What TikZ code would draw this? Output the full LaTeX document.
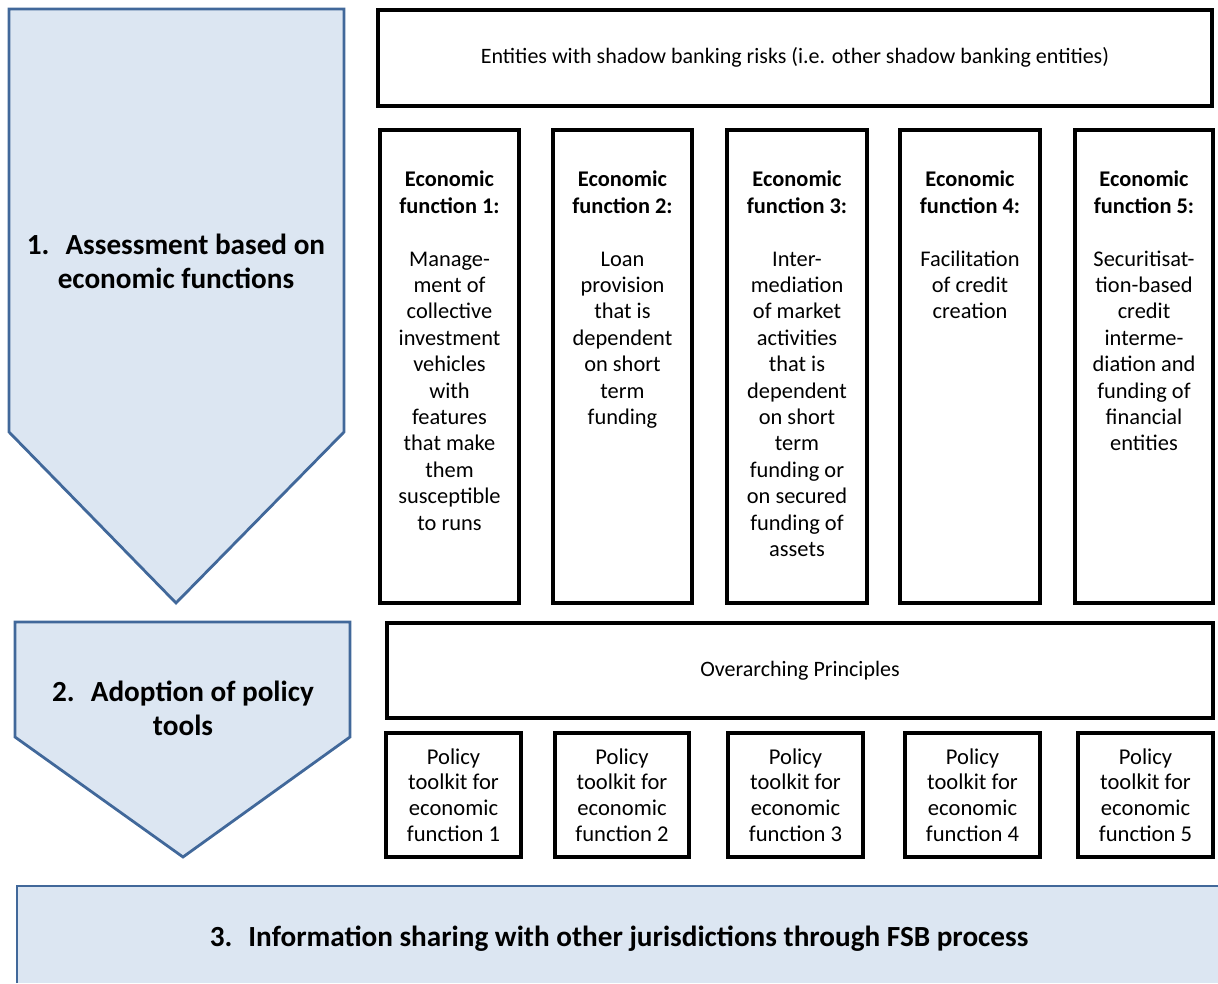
\documentclass[tikz,border=0pt]{standalone}
\usepackage{fontspec}
\setmainfont{Carlito}
\usetikzlibrary{fit}
\definecolor{chfill}{HTML}{DCE6F2}
\definecolor{chline}{HTML}{41689A}
\newcommand{\stk}[1]{\begin{tabular}[t]{@{}c@{}}#1\end{tabular}}
\newcommand{\bodyfnt}{\fontsize{11.2pt}{13.2pt}\selectfont}
\newcommand{\polfnt}{\fontsize{11.3pt}{12.85pt}\selectfont}
\newcommand{\smallfnt}{\fontsize{11pt}{13pt}\selectfont}
\newcommand{\bigfnt}{\fontsize{14.6pt}{17pt}\selectfont\bfseries}
\tikzset{
  blk/.style={draw=black, line width=1.75pt, fill=white, inner sep=0pt},
  chev/.style={draw=chline, fill=chfill, line width=1.4pt, line join=miter},
  txt/.style={inner sep=0pt, anchor=base},
}
\begin{document}
\begin{tikzpicture}[x=0.5pt,y=-0.5pt]
\useasboundingbox (0,0) rectangle (1218,983);

% chevrons
\draw[chev] (9,9) -- (344,9) -- (344,432) -- (176,603) -- (9,432) -- cycle;
\draw[chev] (15,622) -- (350,622) -- (350,737) -- (183,857) -- (15,737) -- cycle;
% bottom band
\fill[chfill] (17,886) rectangle (1218,983);
\draw[chline, line width=1.4pt] (17,983) -- (17,886) -- (1218,886);

\node[txt] (l1) at (176,255) {\bigfnt\stk{1.\hspace{0.55em}Assessment based on\\ economic functions}};
\node[txt] (l2) at (183,701) {\bigfnt\stk{2.\hspace{0.55em}Adoption of policy\\ tools}};
\node[txt] (l3) at (619,946) {\bigfnt 3.\hspace{0.55em}Information sharing with other jurisdictions through FSB process};

% top box
\node[blk, fit={(378,10) (1212,106)}] (top) {};
\node[txt] (topt) at (795,63.5) {\smallfnt Entities with shadow banking risks (i.e. other shadow banking entities)};

% economic functions
\node[blk, fit={(380,130) (519,603)}] (f1) {};
\node[blk, fit={(553,130) (692,603)}] (f2) {};
\node[blk, fit={(727,130) (867,603)}] (f3) {};
\node[blk, fit={(900,130) (1040,603)}] (f4) {};
\node[blk, fit={(1075,130) (1213,603)}] (f5) {};

\node[txt] (f1t) at (449.5,187) {\bodyfnt\stk{\textbf{Economic}\\ \textbf{function 1:}\\ \\ Manage-\\ ment of\\ collective\\ investment\\ vehicles\\ with\\ features\\ that make\\ them\\ susceptible\\ to runs}};
\node[txt] (f2t) at (622.5,187) {\bodyfnt\stk{\textbf{Economic}\\ \textbf{function 2:}\\ \\ Loan\\ provision\\ that is\\ dependent\\ on short\\ term\\ funding}};
\node[txt] (f3t) at (797,187) {\bodyfnt\stk{\textbf{Economic}\\ \textbf{function 3:}\\ \\ Inter-\\ mediation\\ of market\\ activities\\ that is\\ dependent\\ on short\\ term\\ funding or\\ on secured\\ funding of\\ assets}};
\node[txt] (f4t) at (970,187) {\bodyfnt\stk{\textbf{Economic}\\ \textbf{function 4:}\\ \\ Facilitation\\ of credit\\ creation}};
\node[txt] (f5t) at (1144,187) {\bodyfnt\stk{\textbf{Economic}\\ \textbf{function 5:}\\ \\ Securitisat-\\ tion-based\\ credit\\ interme-\\ diation and\\ funding of\\ financial\\ entities}};

% overarching principles
\node[blk, fit={(387,623) (1213,718)}] (over) {};
\node[txt] (overt) at (800,676.5) {\smallfnt Overarching Principles};

% policy toolkits
\node[blk, fit={(386,733) (521,857)}] (p1) {};
\node[blk, fit={(555,733) (689,857)}] (p2) {};
\node[blk, fit={(728,733) (863,857)}] (p3) {};
\node[blk, fit={(905,733) (1040,857)}] (p4) {};
\node[blk, fit={(1078,733) (1213,857)}] (p5) {};
\node[txt] (p1t) at (453.5,764) {\polfnt\stk{Policy\\ toolkit for\\ economic\\ function 1}};
\node[txt] (p2t) at (622,764) {\polfnt\stk{Policy\\ toolkit for\\ economic\\ function 2}};
\node[txt] (p3t) at (795.5,764) {\polfnt\stk{Policy\\ toolkit for\\ economic\\ function 3}};
\node[txt] (p4t) at (972.5,764) {\polfnt\stk{Policy\\ toolkit for\\ economic\\ function 4}};
\node[txt] (p5t) at (1145.5,764) {\polfnt\stk{Policy\\ toolkit for\\ economic\\ function 5}};
\end{tikzpicture}
\end{document}
